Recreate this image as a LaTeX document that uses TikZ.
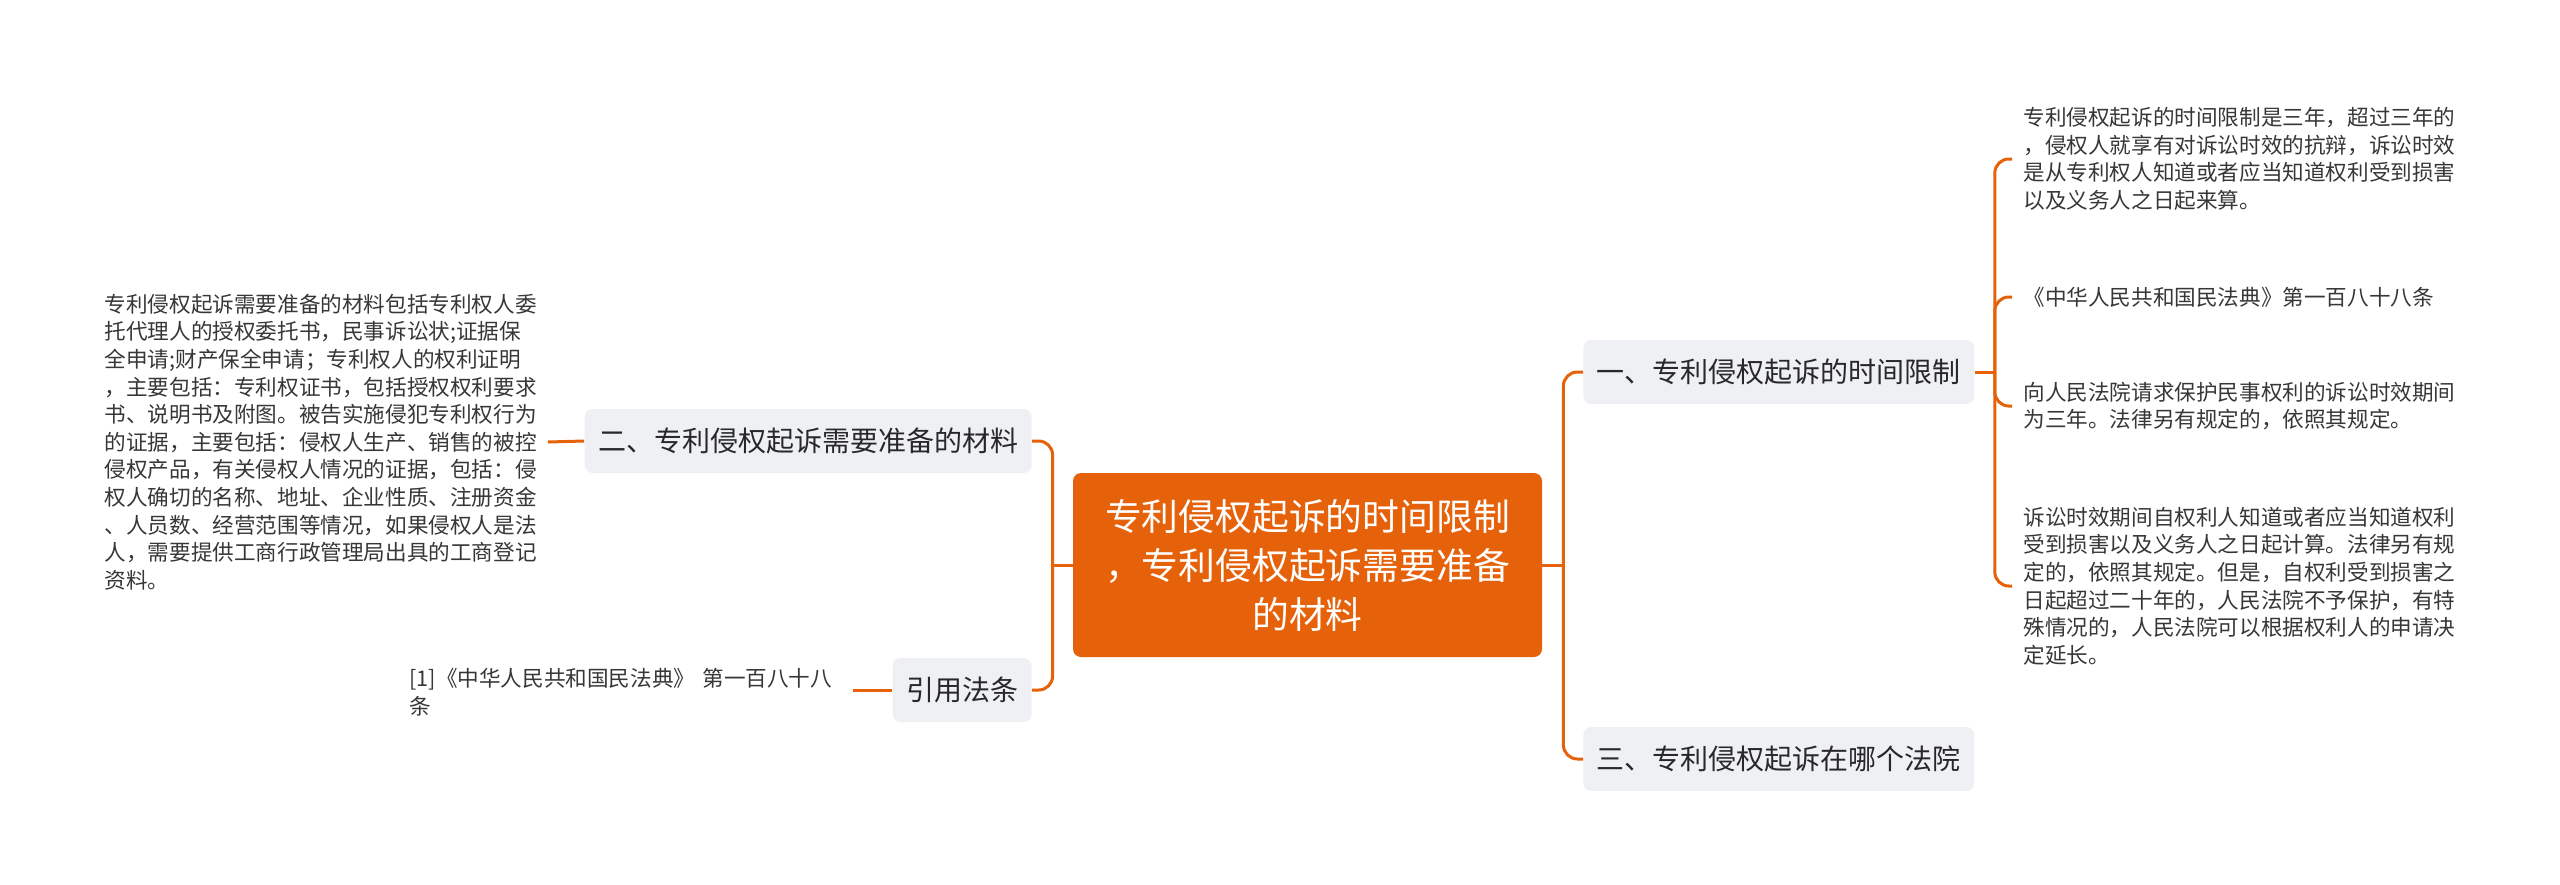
\documentclass[tikz,border=0pt]{standalone}
\usepackage{fontspec}
\newfontfamily\cjk{Noto Sans CJK SC}
\definecolor{brand}{RGB}{230,98,10}
\definecolor{boxgray}{RGB}{238,240,243}
\definecolor{ink}{RGB}{40,40,40}
\definecolor{leafink}{RGB}{55,55,55}
\begin{document}
\begin{tikzpicture}[x=0.5pt,y=-0.5pt,
  rootbox/.style={fill=brand, rounded corners=4pt, text=white, align=center,
    minimum width=234.5pt, minimum height=92pt, inner sep=0pt,
    font=\cjk\fontsize{18.4pt}{24.5pt}\selectfont},
  topic/.style={fill=boxgray, rounded corners=4pt, text=ink, minimum height=32pt,
    inner xsep=6.75pt, inner ysep=0pt, font=\cjk\fontsize{14pt}{16pt}\selectfont},
  leaf/.style={text=leafink, text width=216pt, align=left, inner xsep=5.5pt, inner ysep=0pt,
    font=\cjk\fontsize{10.8pt}{13.8pt}\selectfont},
  link/.style={draw=brand, line width=1.5pt},
  branch/.style={link, rounded corners=7pt}]
\fill[white] (0,0) rectangle (2560,884);
\useasboundingbox (0,0) rectangle (2560,884);

% root
\node[rootbox] (root) at (1307.5,565) {专利侵权起诉的时间限制\\，专利侵权起诉需要准备\\的材料};

% topics
\node[topic, anchor=west] (t1) at (1583,372) {一、专利侵权起诉的时间限制};
\node[topic, anchor=west] (t3) at (1583,759) {三、专利侵权起诉在哪个法院};
\node[topic, anchor=east] (t2) at (1032,441) {二、专利侵权起诉需要准备的材料};
\node[topic, anchor=east] (t4) at (1032,690) {引用法条};

% leaves right
\node[leaf, anchor=west] (r1) at (2012,159) {专利侵权起诉的时间限制是三年，超过三年的\\，侵权人就享有对诉讼时效的抗辩，诉讼时效\\是从专利权人知道或者应当知道权利受到损害\\以及义务人之日起来算。};
\node[leaf, anchor=west] (r2) at (2012,297) {《中华人民共和国民法典》第一百八十八条};
\node[leaf, anchor=west] (r3) at (2012,406) {向人民法院请求保护民事权利的诉讼时效期间\\为三年。法律另有规定的，依照其规定。};
\node[leaf, anchor=west] (r4) at (2012,586) {诉讼时效期间自权利人知道或者应当知道权利\\受到损害以及义务人之日起计算。法律另有规\\定的，依照其规定。但是，自权利受到损害之\\日起超过二十年的，人民法院不予保护，有特\\殊情况的，人民法院可以根据权利人的申请决\\定延长。};

% leaves left
\node[leaf, anchor=east] (l2) at (548,442) {专利侵权起诉需要准备的材料包括专利权人委\\托代理人的授权委托书，民事诉讼状;证据保\\全申请;财产保全申请；专利权人的权利证明\\，主要包括：专利权证书，包括授权权利要求\\书、说明书及附图。被告实施侵犯专利权行为\\的证据，主要包括：侵权人生产、销售的被控\\侵权产品，有关侵权人情况的证据，包括：侵\\权人确切的名称、地址、企业性质、注册资金\\、人员数、经营范围等情况，如果侵权人是法\\人，需要提供工商行政管理局出具的工商登记\\资料。};
\node[leaf, anchor=east] (l4) at (853,692) {[1]《中华人民共和国民法典》~第一百八十八\\条};

% connectors
\path (root.east) ++(21,0) coordinate (jr);
\path (root.west) ++(-20,0) coordinate (jl);
\path (t1.east) ++(20,0) coordinate (j1);

\draw[link] (root.east) -- (jr);
\draw[branch] (jr) |- (t1.west);
\draw[branch] (jr) |- (t3.west);

\draw[link] (root.west) -- (jl);
\draw[branch] (jl) |- (t2.east);
\draw[branch] (jl) |- (t4.east);

\draw[link] (t1.east) -- (j1);
\draw[branch] (j1) |- (r1.west);
\draw[branch] (j1) |- (r2.west);
\draw[branch] (j1) |- (r3.west);
\draw[branch] (j1) |- (r4.west);

\draw[link] (t2.west) -- (l2.east);
\draw[link] (t4.west) -- (l4.east |- t4.west);
\end{tikzpicture}
\end{document}
